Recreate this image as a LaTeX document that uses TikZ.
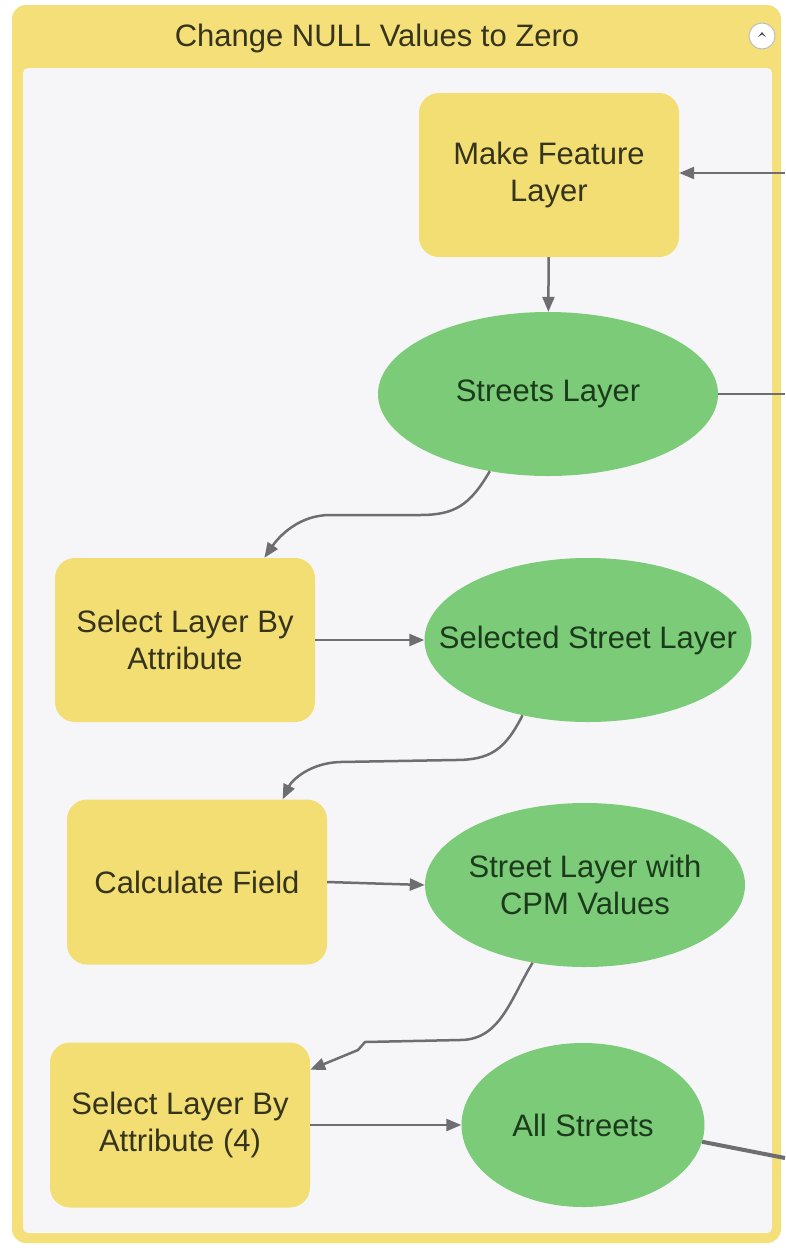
\documentclass[tikz,border=0pt]{standalone}
\usepackage{fontspec}
\setmainfont{Liberation Sans}
\usetikzlibrary{shapes.geometric,arrows.meta}
\definecolor{frameyellow}{HTML}{F4DF78}
\definecolor{toolyellow}{HTML}{F3DE74}
\definecolor{datagreen}{HTML}{7BCB78}
\definecolor{canvas}{HTML}{F6F6F8}
\definecolor{tooltext}{HTML}{35341C}
\definecolor{datatext}{HTML}{1C3A1C}
\definecolor{linkgray}{HTML}{6E6E72}
\begin{document}
\begin{tikzpicture}[x=1pt,y=-1pt,
    tool/.style={rectangle,rounded corners=20pt,fill=toolyellow,text=tooltext,
      minimum width=260pt,minimum height=164pt,align=center,inner sep=0pt,
      font=\fontsize{31}{37}\selectfont},
    data/.style={ellipse,fill=datagreen,text=datatext,minimum height=164pt,
      align=center,inner xsep=-34pt,inner ysep=0pt,
      font=\fontsize{31}{37}\selectfont},
    flow/.style={draw=linkgray,line width=2.5pt,
      -{Triangle[length=15pt,width=12pt]}},
    link/.style={draw=linkgray,line width=2.5pt}]
  \useasboundingbox (0,0) rectangle (785,1251);
  % frame of the group
  \fill[white] (0,0) rectangle (785,1251);
  \fill[frameyellow,rounded corners=14pt] (12,5) rectangle (781,1243);
  \fill[canvas,rounded corners=5pt] (23,68) rectangle (772,1233);
  \node[text=tooltext,font=\fontsize{31}{37}\selectfont] (title) at (377,38)
    {Change NULL Values to Zero};
  \node[circle,fill=white,draw=black!25,line width=1pt,minimum size=26pt,
    inner sep=0pt] (fold) at (762,36) {};
  \fill[black!70] ([xshift=-4pt,yshift=-1pt]fold.center)
    -- ([yshift=4pt]fold.center) -- ([xshift=4pt,yshift=-1pt]fold.center)
    -- ([yshift=1.5pt]fold.center) -- cycle;
  \draw
    (549,175) node[tool] (makefeat) {Make Feature\\Layer}
    (548,394) node[data,minimum width=340pt] (streets) {Streets Layer}
    (185,640) node[tool] (selattr) {Select Layer By\\Attribute}
    (588,640) node[data,minimum width=327pt] (selected) {Selected Street Layer}
    (197,882) node[tool,minimum height=165pt] (calcfield) {Calculate Field}
    (585,885) node[data,minimum width=320pt] (cpmvals) {Street Layer with\\CPM Values}
    (180,1125) node[tool,minimum height=165pt] (selattrfour) {Select Layer By\\Attribute (4)}
    (583,1125) node[data,minimum width=243pt] (allstreets) {All Streets};
  \coordinate (infeat) at (785,173);
  \coordinate (outstreets) at (785,394);
  \coordinate (outall) at (785,1158);
  \begin{scope}
    \draw[flow] (infeat) -- (infeat -| makefeat.east);
    \draw[flow] (makefeat) -- (streets);
    \draw[link] (streets) -- (outstreets);
    \draw[flow] (streets.233) .. controls (470,505) and (455,515) .. (420,515)
      -- (330,515) .. controls (300,515) and (280,535) .. (selattr.46);
    \draw[flow] (selattr) -- (selected);
    \draw[flow] (selected.229) .. controls (505,750) and (490,760) .. (455,760)
      -- (340,762) .. controls (310,763) and (292,780) .. (calcfield.44);
    \draw[flow] (calcfield.east) -- (cpmvals.west);
    \draw[flow] (cpmvals.236) .. controls (510,1000) and (500,1040) .. (460,1040)
      -- (365,1042) -- (358,1050) -- (selattrfour.23);
    \draw[flow] (selattrfour) -- (allstreets);
    \draw[link,line width=4pt] (allstreets.-8) -- (outall);
  \end{scope}
\end{tikzpicture}
\end{document}
